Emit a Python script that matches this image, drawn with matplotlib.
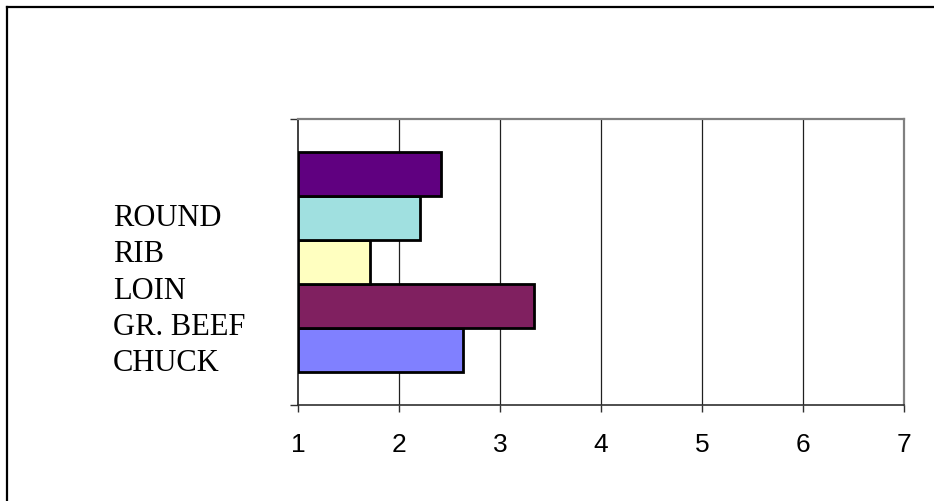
import matplotlib
matplotlib.use('Agg')
import matplotlib.pyplot as plt
from matplotlib.lines import Line2D

# datos (de abajo hacia arriba)
series = ['CHUCK', 'GR. BEEF', 'LOIN', 'RIB', 'ROUND']
valores = [2.63, 3.34, 1.71, 2.21, 2.42]
colores = ['#8080FF', '#802060', '#FFFFC0', '#A0E0E0', '#600080']
etiquetas_leyenda = ['ROUND', 'RIB', 'LOIN', 'GR. BEEF', 'CHUCK']
ticks_x = [1, 2, 3, 4, 5, 6, 7]

fig = plt.figure(figsize=(9.34, 5.01), dpi=100)
ax = fig.add_axes([298 / 934, 1 - 405 / 501, 606 / 934, 286 / 501])

# una sola categoria, 5 series, gap width ~30%
grupo = 1 / 1.3
alto = grupo / len(series)
base = 0.5 - grupo / 2
for i, (v, c) in enumerate(zip(valores, colores)):
    ax.barh(base + alto * (i + 0.5), v - 1, left=1, height=alto,
            color=c, edgecolor='black', linewidth=2.0, zorder=3)

ax.set_xlim(1, 7)
ax.set_ylim(0, 1)
ax.set_xticks(ticks_x)
ax.set_xticklabels([str(t) for t in ticks_x], family='Liberation Sans', fontsize=19)
ax.set_yticks([0, 1])
ax.set_yticklabels([])
ax.tick_params(axis='x', direction='out', length=5, width=1, color='#303030', pad=15)
ax.tick_params(axis='y', direction='out', length=5.5, width=1, color='#303030')

for x in ticks_x[1:-1]:
    ax.axvline(x, color='#202020', linewidth=0.9, zorder=1)

ax.spines['left'].set_color('#202020')
ax.spines['bottom'].set_color('#303030')
ax.spines['left'].set_linewidth(1.2)
ax.spines['bottom'].set_linewidth(1.2)
ax.spines['top'].set_color('#808080')
ax.spines['right'].set_color('#808080')
ax.spines['top'].set_linewidth(1.6)
ax.spines['right'].set_linewidth(1.6)

# texto de la leyenda (sin claves)
y0 = 226
for k, txt in enumerate(etiquetas_leyenda):
    yb = y0 + k * 36.3
    fig.text(113 / 934, 1 - yb / 501, txt, family='Liberation Serif',
             fontsize=22, ha='left', va='baseline')

# borde del grafico (solo arriba e izquierda visibles)
fig.add_artist(Line2D([7 / 934, 1], [1 - 7 / 501, 1 - 7 / 501], color='black', linewidth=1.6))
fig.add_artist(Line2D([7 / 934, 7 / 934], [0, 1 - 7 / 501], color='black', linewidth=1.6))

fig.savefig('out.png', dpi=100)
